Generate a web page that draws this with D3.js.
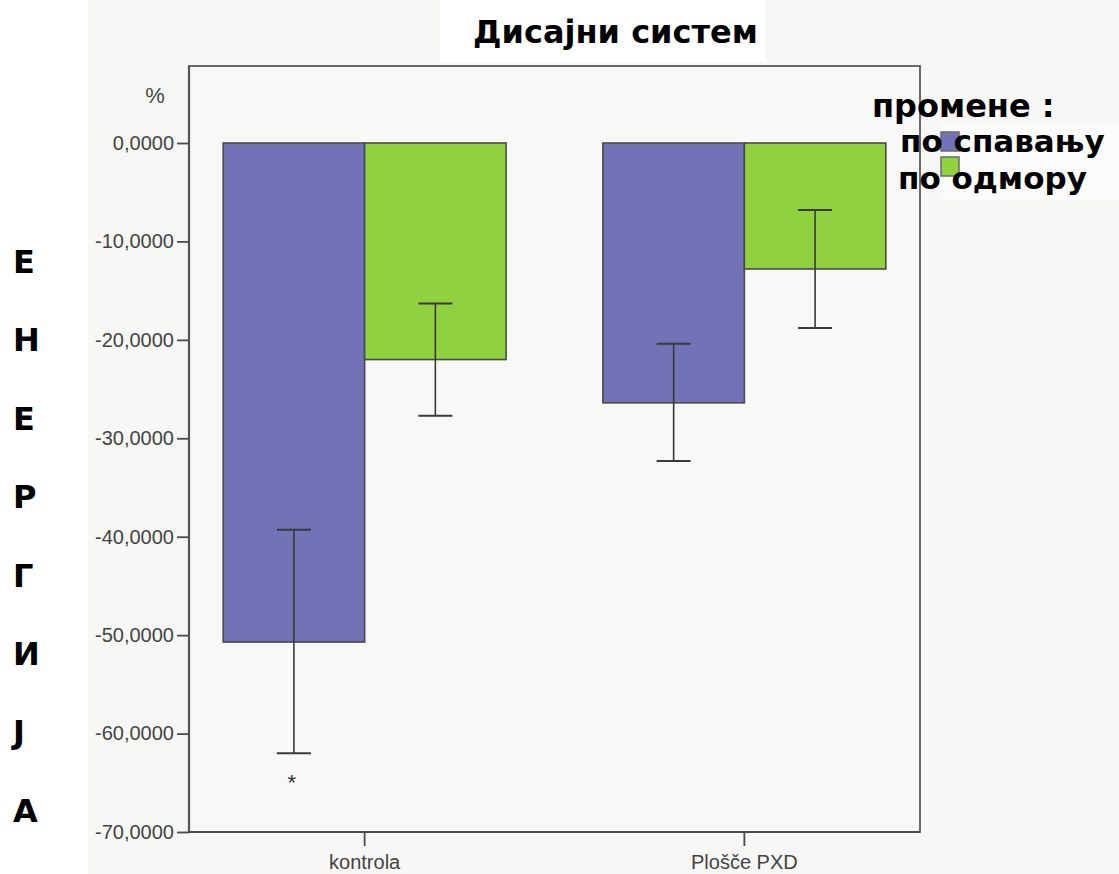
<!DOCTYPE html>
<html>
<head>
<meta charset="utf-8">
<script src="https://cdn.jsdelivr.net/npm/d3@7"></script>
<style>
  html, body { margin: 0; padding: 0; background: #f7f7f6; }
  svg { display: block; }
</style>
</head>
<body>
<div id="chart"></div>
<script>
// Промене енергије дисајног система (%), средња вредност ± интервал
const categories = ["kontrola", "Plošče PXD"];
const seriesNames = ["по спавању", "по одмору"];
const sleepMean = [-50.7, -26.4];
const sleepLow = [-62.0, -32.3];
const sleepHigh = [-39.3, -20.4];
const restMean = [-22.0, -12.8];
const restLow = [-27.7, -18.8];
const restHigh = [-16.3, -6.8];
const sleepMarks = ["*", ""];
const yTickValues = [0, -10, -20, -30, -40, -50, -60, -70];
const yTickLabels = ["0,0000", "-10,0000", "-20,0000", "-30,0000", "-40,0000", "-50,0000", "-60,0000", "-70,0000"];
const sideLetters = ["Е", "Н", "Е", "Р", "Г", "И", "Ј", "А"];
const titleText = "Дисајни систем";
const legendTitle = "промене :";

const seriesColors = ["#7272b7", "#8fd13f"];

const W = 1119, H = 874;
const plotLeft = 189, plotRight = 920, frameTop = 66, yZero = 143, plotBottom = 832;
const boldFont = "DejaVu Sans", boldSize = 32;

const series = [
  { name: seriesNames[0], mean: sleepMean, low: sleepLow, high: sleepHigh, marks: sleepMarks },
  { name: seriesNames[1], mean: restMean, low: restLow, high: restHigh, marks: ["", ""] }
];

const svg = d3.select("#chart").append("svg")
  .attr("width", W).attr("height", H);

// background panels
svg.append("rect").attr("x", 0).attr("y", 0).attr("width", W).attr("height", H).attr("fill", "#f7f7f6");
svg.append("rect").attr("x", 0).attr("y", 0).attr("width", 88).attr("height", H).attr("fill", "#ffffff");

const y = d3.scaleLinear().domain([-70, 0]).range([plotBottom, yZero]);
const x0 = d3.scaleBand().domain(categories).range([plotLeft, plotRight])
  .paddingInner(0.255).paddingOuter(0.09);
const x1 = d3.scaleBand().domain(seriesNames).range([0, x0.bandwidth()]).padding(0);

// plot frame
svg.append("rect")
  .attr("x", plotLeft).attr("y", frameTop)
  .attr("width", plotRight - plotLeft).attr("height", plotBottom - frameTop)
  .attr("fill", "#f8f8f7").attr("stroke", "#5a5a5a").attr("stroke-width", 1.8);

// title box and title
svg.append("rect").attr("x", 440).attr("y", 0).attr("width", 325).attr("height", 62).attr("fill", "#ffffff");
svg.append("text")
  .attr("x", 473).attr("y", 43)
  .attr("font-family", boldFont).attr("font-weight", "bold").attr("font-size", boldSize)
  .attr("fill", "#000").text(titleText);

// bars
const groups = svg.append("g").selectAll("g")
  .data(categories).join("g")
  .attr("transform", d => `translate(${x0(d)},0)`);

series.forEach((s, si) => {
  groups.append("rect")
    .attr("x", x1(s.name))
    .attr("y", (d, i) => y(Math.max(0, s.mean[i])))
    .attr("width", x1.bandwidth())
    .attr("height", (d, i) => Math.abs(y(s.mean[i]) - y(0)))
    .attr("fill", seriesColors[si])
    .attr("stroke", "#4a4a4a").attr("stroke-width", 1.6);
});

// error bars
const capHalf = 17;
series.forEach((s, si) => {
  const cx = x1(s.name) + x1.bandwidth() / 2;
  groups.append("line")
    .attr("x1", cx).attr("x2", cx)
    .attr("y1", (d, i) => y(s.high[i])).attr("y2", (d, i) => y(s.low[i]))
    .attr("stroke", "#3a3a3a").attr("stroke-width", 1.6);
  groups.append("line")
    .attr("x1", cx - capHalf).attr("x2", cx + capHalf)
    .attr("y1", (d, i) => y(s.high[i])).attr("y2", (d, i) => y(s.high[i]))
    .attr("stroke", "#3a3a3a").attr("stroke-width", 2);
  groups.append("line")
    .attr("x1", cx - capHalf).attr("x2", cx + capHalf)
    .attr("y1", (d, i) => y(s.low[i])).attr("y2", (d, i) => y(s.low[i]))
    .attr("stroke", "#3a3a3a").attr("stroke-width", 2);
  groups.append("text")
    .attr("x", cx - 2)
    .attr("y", (d, i) => y(s.low[i]) + 37)
    .attr("text-anchor", "middle")
    .attr("font-family", "Liberation Sans").attr("font-size", 22)
    .attr("fill", "#333")
    .text((d, i) => s.marks[i]);
});

// y axis
const yAxis = svg.append("g")
  .attr("transform", `translate(${plotLeft},0)`)
  .call(d3.axisLeft(y).tickValues(yTickValues)
    .tickFormat((d, i) => yTickLabels[i])
    .tickSize(12).tickSizeOuter(0).tickPadding(3));
yAxis.select(".domain").remove();
yAxis.selectAll(".tick line").attr("stroke", "#4a4a4a").attr("stroke-width", 1.8);
yAxis.selectAll(".tick text")
  .attr("font-family", "Liberation Sans").attr("font-size", 20).attr("fill", "#444");

// x axis
const xAxis = svg.append("g")
  .attr("transform", `translate(0,${plotBottom})`)
  .call(d3.axisBottom(x0).tickSize(14).tickSizeOuter(0).tickPadding(9));
xAxis.select(".domain").attr("stroke", "#4a4a4a").attr("stroke-width", 2.2)
  .attr("d", `M${plotLeft},0H${plotRight}`);
xAxis.selectAll(".tick line").attr("stroke", "#4a4a4a").attr("stroke-width", 1.8);
xAxis.selectAll(".tick text")
  .attr("font-family", "Liberation Sans").attr("font-size", 20).attr("fill", "#444");

// left axis line (darker than frame)
svg.append("line")
  .attr("x1", plotLeft).attr("x2", plotLeft).attr("y1", frameTop).attr("y2", plotBottom)
  .attr("stroke", "#555").attr("stroke-width", 2.2);

// unit label
svg.append("text")
  .attr("x", 155).attr("y", 103).attr("text-anchor", "middle")
  .attr("font-family", "Liberation Sans").attr("font-size", 22).attr("fill", "#444")
  .text("%");

// vertical side label, one letter per line
svg.append("g").selectAll("text")
  .data(sideLetters).join("text")
  .attr("x", 13)
  .attr("y", (d, i) => 273 + i * 78.4)
  .attr("font-family", boldFont).attr("font-weight", "bold").attr("font-size", boldSize)
  .attr("fill", "#000")
  .text(d => d);

// legend
const legend = svg.append("g");
legend.append("rect").attr("x", 940).attr("y", 123).attr("width", W - 940).attr("height", 78).attr("fill", "#fbfbfb");
legend.selectAll("rect.swatch")
  .data(seriesNames).join("rect")
  .attr("class", "swatch")
  .attr("x", 941)
  .attr("y", (d, i) => 132 + i * 25)
  .attr("width", 18).attr("height", 19)
  .attr("fill", (d, i) => seriesColors[i])
  .attr("stroke", "#6a6a6a").attr("stroke-width", 1.5);
legend.append("text")
  .attr("x", 872).attr("y", 117)
  .attr("font-family", boldFont).attr("font-weight", "bold").attr("font-size", boldSize)
  .attr("fill", "#000").text(legendTitle);
legend.selectAll("text.item")
  .data(seriesNames).join("text")
  .attr("class", "item")
  .attr("x", (d, i) => i === 0 ? 900 : 898)
  .attr("y", (d, i) => 152 + i * 37)
  .attr("font-family", boldFont).attr("font-weight", "bold").attr("font-size", 31)
  .attr("fill", "#000")
  .text(d => d);
</script>
</body>
</html>
